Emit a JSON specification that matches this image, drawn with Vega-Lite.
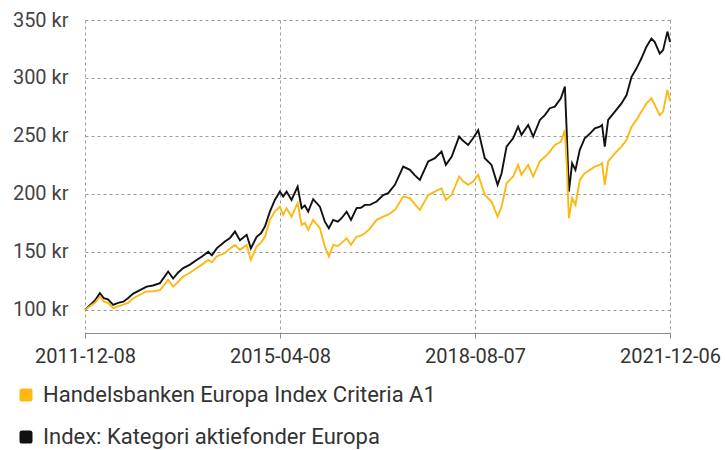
{
  "$schema": "https://vega.github.io/schema/vega-lite/v6.json",
  "width": 585,
  "height": 313,
  "autosize": {"type": "none"},
  "padding": {"left": 85, "top": 20, "right": 55, "bottom": 117},
  "background": "white",
  "config": {"view": {"stroke": null}, "font": "Roboto"},
  "datasets": {
    "index": [
      {"date": "2011-12-08", "value": 100}, {"date": "2012-01-08", "value": 104}, {"date": "2012-02-08", "value": 108},
      {"date": "2012-03-10", "value": 114.4}, {"date": "2012-04-04", "value": 110}, {"date": "2012-04-29", "value": 109},
      {"date": "2012-06-01", "value": 104.3}, {"date": "2012-07-01", "value": 106}, {"date": "2012-08-03", "value": 107},
      {"date": "2012-09-01", "value": 110}, {"date": "2012-10-04", "value": 114}, {"date": "2012-11-15", "value": 117},
      {"date": "2012-12-27", "value": 120}, {"date": "2013-02-04", "value": 121}, {"date": "2013-03-20", "value": 123},
      {"date": "2013-05-10", "value": 133}, {"date": "2013-06-10", "value": 127}, {"date": "2013-07-10", "value": 132},
      {"date": "2013-08-12", "value": 136}, {"date": "2013-09-23", "value": 139}, {"date": "2013-11-04", "value": 143},
      {"date": "2013-12-07", "value": 146}, {"date": "2014-01-15", "value": 150}, {"date": "2014-02-07", "value": 147},
      {"date": "2014-03-09", "value": 153}, {"date": "2014-04-29", "value": 159}, {"date": "2014-05-31", "value": 162},
      {"date": "2014-07-01", "value": 167.5}, {"date": "2014-08-01", "value": 160}, {"date": "2014-09-12", "value": 164.7},
      {"date": "2014-10-08", "value": 153}, {"date": "2014-11-13", "value": 163}, {"date": "2014-12-10", "value": 166},
      {"date": "2015-01-04", "value": 171.8}, {"date": "2015-02-04", "value": 184.7}, {"date": "2015-03-07", "value": 194.8},
      {"date": "2015-04-07", "value": 202}, {"date": "2015-04-28", "value": 197.7}, {"date": "2015-05-19", "value": 202},
      {"date": "2015-06-19", "value": 194.8}, {"date": "2015-07-27", "value": 206.3}, {"date": "2015-08-21", "value": 187.7},
      {"date": "2015-09-10", "value": 190}, {"date": "2015-10-01", "value": 184.7}, {"date": "2015-11-01", "value": 195.4},
      {"date": "2015-12-13", "value": 189}, {"date": "2016-01-13", "value": 176}, {"date": "2016-02-07", "value": 170.4},
      {"date": "2016-03-05", "value": 177.6}, {"date": "2016-04-03", "value": 176}, {"date": "2016-04-26", "value": 179},
      {"date": "2016-05-28", "value": 184.7}, {"date": "2016-06-24", "value": 177.6}, {"date": "2016-07-29", "value": 187.7},
      {"date": "2016-08-25", "value": 188}, {"date": "2016-09-19", "value": 190.5}, {"date": "2016-10-20", "value": 190.5},
      {"date": "2016-12-01", "value": 193.4}, {"date": "2017-01-11", "value": 199}, {"date": "2017-02-11", "value": 200.6},
      {"date": "2017-03-25", "value": 207.8}, {"date": "2017-05-16", "value": 223.5}, {"date": "2017-06-27", "value": 220.7},
      {"date": "2017-07-28", "value": 216}, {"date": "2017-08-28", "value": 212}, {"date": "2017-10-19", "value": 228},
      {"date": "2017-11-30", "value": 230.8}, {"date": "2018-01-10", "value": 236.5}, {"date": "2018-02-06", "value": 225},
      {"date": "2018-03-14", "value": 232}, {"date": "2018-04-30", "value": 249.4}, {"date": "2018-05-23", "value": 246},
      {"date": "2018-06-25", "value": 242.2}, {"date": "2018-07-26", "value": 248}, {"date": "2018-08-27", "value": 255},
      {"date": "2018-10-07", "value": 230.8}, {"date": "2018-11-18", "value": 225}, {"date": "2018-12-26", "value": 207.8},
      {"date": "2019-01-20", "value": 217.8}, {"date": "2019-02-20", "value": 240.8}, {"date": "2019-04-02", "value": 248},
      {"date": "2019-05-03", "value": 258}, {"date": "2019-05-24", "value": 250.9}, {"date": "2019-07-05", "value": 259.5},
      {"date": "2019-08-05", "value": 249.4}, {"date": "2019-09-16", "value": 263.8}, {"date": "2019-10-17", "value": 268},
      {"date": "2019-11-17", "value": 273.9}, {"date": "2019-12-18", "value": 275.3}, {"date": "2020-01-25", "value": 282.5},
      {"date": "2020-02-19", "value": 292.5}, {"date": "2020-03-01", "value": 255}, {"date": "2020-03-15", "value": 202},
      {"date": "2020-04-04", "value": 226.4}, {"date": "2020-04-25", "value": 220.7}, {"date": "2020-05-22", "value": 238},
      {"date": "2020-06-22", "value": 248}, {"date": "2020-07-24", "value": 252}, {"date": "2020-08-24", "value": 256.5},
      {"date": "2020-09-24", "value": 258}, {"date": "2020-10-08", "value": 259.5}, {"date": "2020-10-25", "value": 240.8},
      {"date": "2020-11-15", "value": 263.8}, {"date": "2020-12-27", "value": 271}, {"date": "2021-02-06", "value": 278},
      {"date": "2021-03-10", "value": 285.3}, {"date": "2021-04-10", "value": 301}, {"date": "2021-05-11", "value": 308.3},
      {"date": "2021-06-11", "value": 317}, {"date": "2021-07-12", "value": 327}, {"date": "2021-08-12", "value": 334},
      {"date": "2021-09-02", "value": 331}, {"date": "2021-10-03", "value": 321}, {"date": "2021-10-24", "value": 324},
      {"date": "2021-11-20", "value": 340}, {"date": "2021-12-06", "value": 331}
    ],
    "fund": [
      {"date": "2011-12-08", "value": 100}, {"date": "2012-01-08", "value": 103}, {"date": "2012-02-08", "value": 106},
      {"date": "2012-03-10", "value": 111.5}, {"date": "2012-04-04", "value": 107}, {"date": "2012-04-29", "value": 106},
      {"date": "2012-06-01", "value": 101.4}, {"date": "2012-07-01", "value": 103}, {"date": "2012-08-03", "value": 104.5},
      {"date": "2012-09-01", "value": 106}, {"date": "2012-10-04", "value": 110}, {"date": "2012-11-15", "value": 113},
      {"date": "2012-12-27", "value": 115.8}, {"date": "2013-02-04", "value": 116}, {"date": "2013-03-20", "value": 117},
      {"date": "2013-05-10", "value": 125.9}, {"date": "2013-06-10", "value": 120}, {"date": "2013-07-10", "value": 124},
      {"date": "2013-08-12", "value": 128.7}, {"date": "2013-09-23", "value": 132}, {"date": "2013-11-04", "value": 136},
      {"date": "2013-12-07", "value": 139}, {"date": "2014-01-15", "value": 143}, {"date": "2014-02-07", "value": 141},
      {"date": "2014-03-09", "value": 146}, {"date": "2014-04-29", "value": 149}, {"date": "2014-05-31", "value": 153},
      {"date": "2014-07-01", "value": 156}, {"date": "2014-08-01", "value": 151.7}, {"date": "2014-09-12", "value": 156},
      {"date": "2014-10-08", "value": 143}, {"date": "2014-11-13", "value": 154.6}, {"date": "2014-12-10", "value": 158},
      {"date": "2015-01-04", "value": 163}, {"date": "2015-02-04", "value": 177.6}, {"date": "2015-03-07", "value": 184.7},
      {"date": "2015-04-07", "value": 189}, {"date": "2015-04-28", "value": 181.9}, {"date": "2015-05-19", "value": 187.7},
      {"date": "2015-06-19", "value": 180.4}, {"date": "2015-07-27", "value": 192}, {"date": "2015-08-21", "value": 173.3},
      {"date": "2015-09-10", "value": 175}, {"date": "2015-10-01", "value": 169}, {"date": "2015-11-01", "value": 177.6},
      {"date": "2015-12-13", "value": 170.4}, {"date": "2016-01-13", "value": 154.6}, {"date": "2016-02-07", "value": 146},
      {"date": "2016-03-05", "value": 156}, {"date": "2016-04-03", "value": 155}, {"date": "2016-04-26", "value": 157.5},
      {"date": "2016-05-28", "value": 161.8}, {"date": "2016-06-24", "value": 156}, {"date": "2016-07-29", "value": 163},
      {"date": "2016-08-25", "value": 164}, {"date": "2016-09-19", "value": 166}, {"date": "2016-10-20", "value": 170},
      {"date": "2016-12-01", "value": 177.6}, {"date": "2017-01-11", "value": 180.4}, {"date": "2017-02-11", "value": 182},
      {"date": "2017-03-25", "value": 186.2}, {"date": "2017-05-16", "value": 197.7}, {"date": "2017-06-27", "value": 196.3},
      {"date": "2017-07-28", "value": 191}, {"date": "2017-08-28", "value": 186.2}, {"date": "2017-10-19", "value": 199},
      {"date": "2017-11-30", "value": 202}, {"date": "2018-01-10", "value": 204.9}, {"date": "2018-02-06", "value": 194.8},
      {"date": "2018-03-14", "value": 199}, {"date": "2018-04-30", "value": 215}, {"date": "2018-05-23", "value": 211},
      {"date": "2018-06-25", "value": 207.8}, {"date": "2018-07-26", "value": 210.6}, {"date": "2018-08-27", "value": 216.4},
      {"date": "2018-10-07", "value": 199}, {"date": "2018-11-18", "value": 193.4}, {"date": "2018-12-26", "value": 180.4},
      {"date": "2019-01-20", "value": 189}, {"date": "2019-02-20", "value": 209.2}, {"date": "2019-04-02", "value": 215},
      {"date": "2019-05-03", "value": 225}, {"date": "2019-05-24", "value": 216.4}, {"date": "2019-07-05", "value": 225},
      {"date": "2019-08-05", "value": 215}, {"date": "2019-09-16", "value": 228}, {"date": "2019-10-17", "value": 232},
      {"date": "2019-11-17", "value": 236.5}, {"date": "2019-12-18", "value": 242.2}, {"date": "2020-01-25", "value": 245},
      {"date": "2020-02-19", "value": 255}, {"date": "2020-03-01", "value": 226.4}, {"date": "2020-03-15", "value": 179},
      {"date": "2020-04-04", "value": 196.3}, {"date": "2020-04-25", "value": 190.5}, {"date": "2020-05-22", "value": 212},
      {"date": "2020-06-22", "value": 217.8}, {"date": "2020-07-24", "value": 220.7}, {"date": "2020-08-24", "value": 223.5},
      {"date": "2020-09-24", "value": 225}, {"date": "2020-10-08", "value": 226.4}, {"date": "2020-10-25", "value": 207.8},
      {"date": "2020-11-15", "value": 228}, {"date": "2020-12-27", "value": 235}, {"date": "2021-02-06", "value": 240.8},
      {"date": "2021-03-10", "value": 246.6}, {"date": "2021-04-10", "value": 258}, {"date": "2021-05-11", "value": 263.8},
      {"date": "2021-06-11", "value": 271}, {"date": "2021-07-12", "value": 278}, {"date": "2021-08-12", "value": 282.5},
      {"date": "2021-09-02", "value": 276.7}, {"date": "2021-10-03", "value": 268}, {"date": "2021-10-24", "value": 271},
      {"date": "2021-11-20", "value": 289.7}, {"date": "2021-12-06", "value": 280}
    ]
  },
  "encoding": {
    "x": {
      "field": "date",
      "type": "temporal",
      "scale": {"type": "utc", "domain": [{"year": 2011, "month": 12, "date": 8, "utc": true}, {"year": 2021, "month": 12, "date": 6, "utc": true}], "nice": false},
      "axis": {
        "title": null,
        "values": [{"year": 2011, "month": 12, "date": 8, "utc": true}, {"year": 2015, "month": 4, "date": 8, "utc": true}, {"year": 2018, "month": 8, "date": 7, "utc": true}, {"year": 2021, "month": 12, "date": 6, "utc": true}],
        "format": "%Y-%m-%d",
        "domainColor": "#8c8c8c",
        "tickColor": "#8c8c8c",
        "tickSize": 5,
        "labelPadding": 8,
        "labelFontSize": 20,
        "labelColor": "#333333",
        "labelOverlap": false,
        "labelFlush": false,
        "labelBound": false,
        "grid": true,
        "gridColor": "#9a9a9a",
        "gridDash": [3, 3],
        "gridWidth": 1
      }
    },
    "y": {
      "field": "value",
      "type": "quantitative",
      "scale": {"domain": [80, 350], "nice": false, "zero": false},
      "axis": {
        "title": null,
        "values": [100, 150, 200, 250, 300, 350],
        "labelExpr": "datum.value + ' kr'",
        "domain": false,
        "ticks": false,
        "labelPadding": 17,
        "labelFontSize": 20,
        "labelColor": "#444444",
        "grid": true,
        "gridColor": "#9a9a9a",
        "gridDash": [3, 3],
        "gridWidth": 1
      }
    }
  },
  "layer": [
    {
      "data": {"name": "index"},
      "mark": {"type": "line", "strokeWidth": 1.9},
      "encoding": {
        "color": {
          "datum": "Index: Kategori aktiefonder Europa",
          "type": "nominal",
          "scale": {"domain": ["Handelsbanken Europa Index Criteria A1", "Index: Kategori aktiefonder Europa"], "range": ["#FDB913", "#111111"]},
          "legend": {
            "orient": "none",
            "legendX": -70,
            "legendY": 364,
            "title": null,
            "direction": "vertical",
            "symbolType": "M-0.6,-1L0.6,-1Q1,-1 1,-0.6L1,0.6Q1,1 0.6,1L-0.6,1Q-1,1 -1,0.6L-1,-0.6Q-1,-1 -0.6,-1Z",
            "symbolSize": 169,
            "symbolStrokeWidth": 0,
            "labelFontSize": 22,
            "labelColor": "#333333",
            "labelOffset": 6,
            "labelLimit": 700,
            "rowPadding": 20,
            "encode": {"symbols": {"update": {"fill": {"scale": "color", "field": "value"}, "opacity": {"value": 1}}}}
          }
        }
      }
    },
    {
      "data": {"name": "fund"},
      "mark": {"type": "line", "strokeWidth": 1.9},
      "encoding": {
        "color": {"datum": "Handelsbanken Europa Index Criteria A1", "type": "nominal"}
      }
    }
  ]
}
